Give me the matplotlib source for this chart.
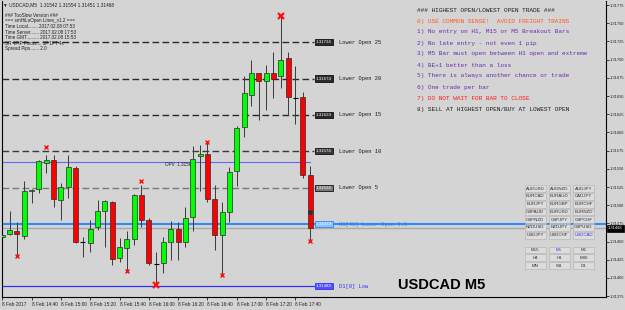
import matplotlib
matplotlib.use('Agg')
import matplotlib.pyplot as plt
import matplotlib.transforms as mtransforms
from matplotlib.patches import Rectangle

# USDCAD M5 bars, 8 Feb 2017 14:20 .. 17:50
opens = [1.31456, 1.31460, 1.31465, 1.31458, 1.31519, 1.31522, 1.31558, 1.31562, 1.31507, 1.31525,
         1.31551, 1.31449, 1.31448, 1.31470, 1.31492, 1.31504, 1.31427, 1.31441, 1.31453, 1.31514,
         1.31480, 1.31419, 1.31420, 1.31449, 1.31467, 1.31449, 1.31484, 1.31568, 1.31570, 1.31509,
         1.31459, 1.31491, 1.31547, 1.31608, 1.31652, 1.31681, 1.31671, 1.31681, 1.31678, 1.31702,
         1.31647, 1.31648, 1.31542]
highs = [1.31480, 1.31492, 1.31477, 1.31533, 1.31522, 1.31562, 1.31569, 1.31569, 1.31531, 1.31569,
         1.31554, 1.31457, 1.31479, 1.31507, 1.31507, 1.31506, 1.31455, 1.31464, 1.31516, 1.31528,
         1.31482, 1.31436, 1.31456, 1.31478, 1.31477, 1.31498, 1.31581, 1.31583, 1.31585, 1.31528,
         1.31505, 1.31553, 1.31609, 1.31677, 1.31700, 1.31681, 1.31693, 1.31711, 1.31761, 1.31711,
         1.31691, 1.31655, 1.31554]
lows = [1.31443, 1.31459, 1.31432, 1.31454, 1.31503, 1.31517, 1.31544, 1.31498, 1.31480, 1.31510,
        1.31448, 1.31429, 1.31436, 1.31466, 1.31442, 1.31418, 1.31422, 1.31411, 1.31445, 1.31470,
        1.31418, 1.31389, 1.31407, 1.31425, 1.31425, 1.31443, 1.31464, 1.31519, 1.31505, 1.31439,
        1.31404, 1.31477, 1.31526, 1.31594, 1.31636, 1.31617, 1.31631, 1.31647, 1.31661, 1.31624,
        1.31611, 1.31537, 1.31451]
closes = [1.31459, 1.31466, 1.31460, 1.31520, 1.31521, 1.31561, 1.31562, 1.31508, 1.31525, 1.31553,
          1.31449, 1.31449, 1.31467, 1.31492, 1.31506, 1.31426, 1.31442, 1.31454, 1.31514, 1.31479,
          1.31420, 1.31419, 1.31449, 1.31467, 1.31449, 1.31483, 1.31564, 1.31570, 1.31508, 1.31459,
          1.31490, 1.31546, 1.31606, 1.31654, 1.31681, 1.31670, 1.31681, 1.31673, 1.31700, 1.31648,
          1.31647, 1.31541, 1.31468]

# fractal markers (bar index, price)
frac_small_idx = [2, 6, 17, 19, 28, 30, 42]
frac_small_val = [1.31430, 1.31580, 1.31410, 1.31533, 1.31587, 1.31404, 1.31451]
frac_big_idx = [21, 38]
frac_big_val = [1.31390, 1.31760]

# levels
level_vals = [1.31724, 1.31674, 1.31624, 1.31574, 1.31524]
level_names = ['Lower Open 25', 'Lower Open 20', 'Lower Open 15', 'Lower Open 10', 'Lower Open 5']
level_colors = ['#2a2a2a', '#2a2a2a', '#2a2a2a', '#3a3a3a', '#7a7a7a']
h1_open = 1.31474
d1_low = 1.31389
opv = 1.31560
bid = 1.31468
dot_val = 1.31491

time_labels = ['8 Feb 2017', '8 Feb 14:40', '8 Feb 15:00', '8 Feb 15:20', '8 Feb 15:40', '8 Feb 16:00',
               '8 Feb 16:20', '8 Feb 16:40', '8 Feb 17:00', '8 Feb 17:20', '8 Feb 17:40']
price_ticks = [1.31375, 1.31400, 1.31425, 1.31450, 1.31475, 1.31500, 1.31525, 1.31550, 1.31575,
               1.31600, 1.31625, 1.31650, 1.31675, 1.31700, 1.31725, 1.31750, 1.31775]

info_lines = ['### TooSlow Version ###',
              '=== smHiLoOpen Lines_v1.2 ===',
              'Time Local........ 2017.02.08 07:53',
              'Time Server....... 2017.02.08 17:53',
              'Time GMT.......... 2017.02.08 15:53',
              'SR 4PIP Pivots.... 1P 1PT 4x',
              'Spread Pips....... 2.0']

rules = [('### HIGHEST OPEN/LOWEST OPEN TRADE ###', '#202020'),
         ('0) USE COMMON SENSE!  AVOID FREIGHT TRAINS', '#ff5a28'),
         ('1) No entry on H1, M15 or M5 Breakout Bars', '#6a2cb0'),
         ('2) No late entry - not even 1 pip', '#6a2cb0'),
         ('3) M5 Bar must open between H1 open and extreme', '#6a2cb0'),
         ('4) BE+1 better than a loss', '#6a2cb0'),
         ('5) There is always another chance or trade', '#6a2cb0'),
         ('6) One trade per bar', '#6a2cb0'),
         ('7) DO NOT WAIT FOR BAR TO CLOSE', '#ff1a1a'),
         ('8) SELL AT HIGHEST OPEN/BUY AT LOWEST OPEN', '#202020')]

symbols = [['AUDUSD', 'AUDNZD', 'AUDJPY'],
           ['EURCAD', 'EURAUD', 'CADJPY'],
           ['EURJPY', 'EURGBP', 'EURCHF'],
           ['GBPAUD', 'EURUSD', 'EURNZD'],
           ['GBPNZD', 'GBPJPY', 'GBPCHF'],
           ['NZDUSD', 'NZDJPY', 'GBPUSD'],
           ['USDJPY', 'USDCHF', 'USDCAD']]
periods = [['M15', 'M5', 'M1'],
           ['H4', 'H1', 'M30'],
           ['MN', 'W1', 'D1']]

W, H = 625, 310
bg = '#d4d4d4'
sans = ['Liberation Sans', 'DejaVu Sans']
mono = ['Liberation Mono', 'DejaVu Sans Mono']

fig = plt.figure(figsize=(W / 100, H / 100), dpi=100)
fig.patch.set_facecolor(bg)
ax = fig.add_axes([2 / W, 13 / H, 604 / W, 296 / H])
ax.set_facecolor(bg)

n = len(opens)
xs = list(range(n))
ax.set_xlim(-0.03, 82.37)
ax.set_ylim(1.313739, 1.317805)

def axx(px):
    # pixel x -> axes fraction
    return (px - 2) / 604.0

blend = mtransforms.blended_transform_factory(ax.transAxes, ax.transData)

# horizontal lines behind the candles
for v, name, c in zip(level_vals, level_names, level_colors):
    ax.plot([0, axx(314)], [v, v], transform=blend, color=c, lw=1.0,
            linestyle=(0, (4.8, 2.4)), zorder=1)
    ax.text(axx(324), v, '%.5f' % v, transform=blend, fontsize=3.2, family=sans,
            color='white', ha='center', va='center', zorder=5,
            bbox=dict(boxstyle='square,pad=0.25', fc=c, ec='#101010', lw=0.6))
    ax.text(axx(339), v, name, transform=blend, fontsize=3.9, family=mono,
            color='#1a1a1a', ha='left', va='center', zorder=5)

ax.plot([0, 1], [h1_open, h1_open], transform=blend, color='#2a8cff', lw=1.5, zorder=1)
ax.plot([0, 1], [bid, bid], transform=blend, color='#a8a8a8', lw=1.0, zorder=1)
ax.text(axx(324), h1_open, '%.5f' % h1_open, transform=blend, fontsize=3.2, family=sans,
        color='white', ha='center', va='center', zorder=5,
        bbox=dict(boxstyle='square,pad=0.25', fc='#8cc0ff', ec='#2a8cff', lw=0.6))
ax.text(axx(339), h1_open, 'H1[46] Lower Open 0.5', transform=blend, fontsize=3.9, family=mono,
        color='#2f86f0', ha='left', va='center', zorder=5)

ax.plot([0, axx(314)], [d1_low, d1_low], transform=blend, color='#3030ff', lw=0.9, zorder=1)
ax.text(axx(324), d1_low, '%.5f' % d1_low, transform=blend, fontsize=3.2, family=sans,
        color='white', ha='center', va='center', zorder=5,
        bbox=dict(boxstyle='square,pad=0.25', fc='#5050ff', ec='#3030ff', lw=0.6))
ax.text(axx(339), d1_low, 'D1[0] Low', transform=blend, fontsize=3.9, family=mono,
        color='#3030ff', ha='left', va='center', zorder=5)

ax.plot([0, axx(310)], [opv, opv], transform=blend, color='#6666ff', lw=0.8, zorder=1)
ax.text(axx(165), opv, 'OPV  %.5f' % opv, transform=blend, fontsize=3.3, family=sans,
        color='#202020', ha='left', va='top', zorder=1.5)

# candles
body_w = 0.66
for i in xs:
    o, hi, lo, c = opens[i], highs[i], lows[i], closes[i]
    ax.vlines(i, lo, hi, color='#3a3a3a', lw=0.7, zorder=2)
    if abs(c - o) < 1e-6:
        ax.hlines(o, i - body_w / 2, i + body_w / 2, color='black', lw=0.8, zorder=3)
    else:
        col = '#00ff00' if c > o else '#ff0000'
        ax.add_patch(Rectangle((i - body_w / 2, min(o, c)), body_w, abs(c - o),
                               facecolor=col, edgecolor='#2a2a2a', lw=0.5, zorder=3))

ax.plot(frac_small_idx, frac_small_val, linestyle='none', marker='x', color='#ff1010',
        markersize=2.5, mew=1.0, zorder=4)
ax.plot(frac_big_idx, frac_big_val, linestyle='none', marker='x', color='#ff1010',
        markersize=4.5, mew=1.6, zorder=4)
ax.plot([n - 1], [dot_val], linestyle='none', marker='o', color='#303030',
        markersize=2.5, zorder=4)

# axes styling
for s in ['left', 'right', 'bottom']:
    ax.spines[s].set_color('black')
    ax.spines[s].set_linewidth(0.8)
ax.spines['top'].set_visible(False)
ax.yaxis.tick_right()
ax.set_yticks(price_ticks)
ax.set_yticklabels(['%.5f' % p for p in price_ticks])
ax.tick_params(axis='y', labelsize=2.9, length=2, width=0.6, pad=1.0, colors='#202020')
ax.set_xticks(list(range(0, 41, 4)))
ax.set_xticklabels(time_labels, ha='left')
ax.tick_params(axis='x', labelsize=3.4, length=2, width=0.6, pad=1.5, colors='#202020')
for lab in ax.get_xticklabels() + ax.get_yticklabels():
    lab.set_family(sans)

# current price box on the price scale
ax.text(1.003, bid, '%.5f' % bid, transform=blend, fontsize=2.9, family=sans, color='white',
        ha='left', va='center', clip_on=False, zorder=6,
        bbox=dict(boxstyle='square,pad=0.3', fc='black', ec='black', lw=0.5))

# text overlays in figure pixels
def fx(px):
    return px / W

def fy(py):
    return 1 - py / H

fig.text(fx(3), fy(5), '\u25bc USDCAD,M5  1.31542 1.31554 1.31451 1.31468', fontsize=3.4,
         family=sans, color='#202020', va='center')
info_y = [15.7, 20.9, 26.4, 32.1, 37.5, 43.6, 48.6]
for t, yy in zip(info_lines, info_y):
    fig.text(fx(5), fy(yy), t, fontsize=3.3, family=sans, color='#202020', va='center')

rule_y = [10, 21, 32, 43, 54, 65, 76, 87.3, 98.3, 109]
for (t, c), yy in zip(rules, rule_y):
    fig.text(fx(417), fy(yy), t, fontsize=4.4, family=mono, color=c, va='center')

col_x = [535, 559, 583.5]
def button_grid(rows, y0, active):
    for r, row in enumerate(rows):
        yy = y0 + r * 7.8
        for cx, name in zip(col_x, row):
            fig.patches.append(Rectangle((fx(cx - 10.5), fy(yy + 3.4)), 21 / W, 6.8 / H,
                                         transform=fig.transFigure, facecolor='#dcdcdc',
                                         edgecolor='#b8b8b8', lw=0.5))
            fig.text(fx(cx), fy(yy), name, fontsize=3.2, family=sans, ha='center', va='center',
                     color='#3333ff' if name == active else '#303030')

button_grid(symbols, 188.5, 'USDCAD')
button_grid(periods, 250, 'M5')

fig.text(fx(442), fy(285), 'USDCAD M5', fontsize=10.5, weight='bold',
         family=sans, color='black', ha='center', va='center')

fig.savefig('out.png', dpi=100, facecolor=bg)
